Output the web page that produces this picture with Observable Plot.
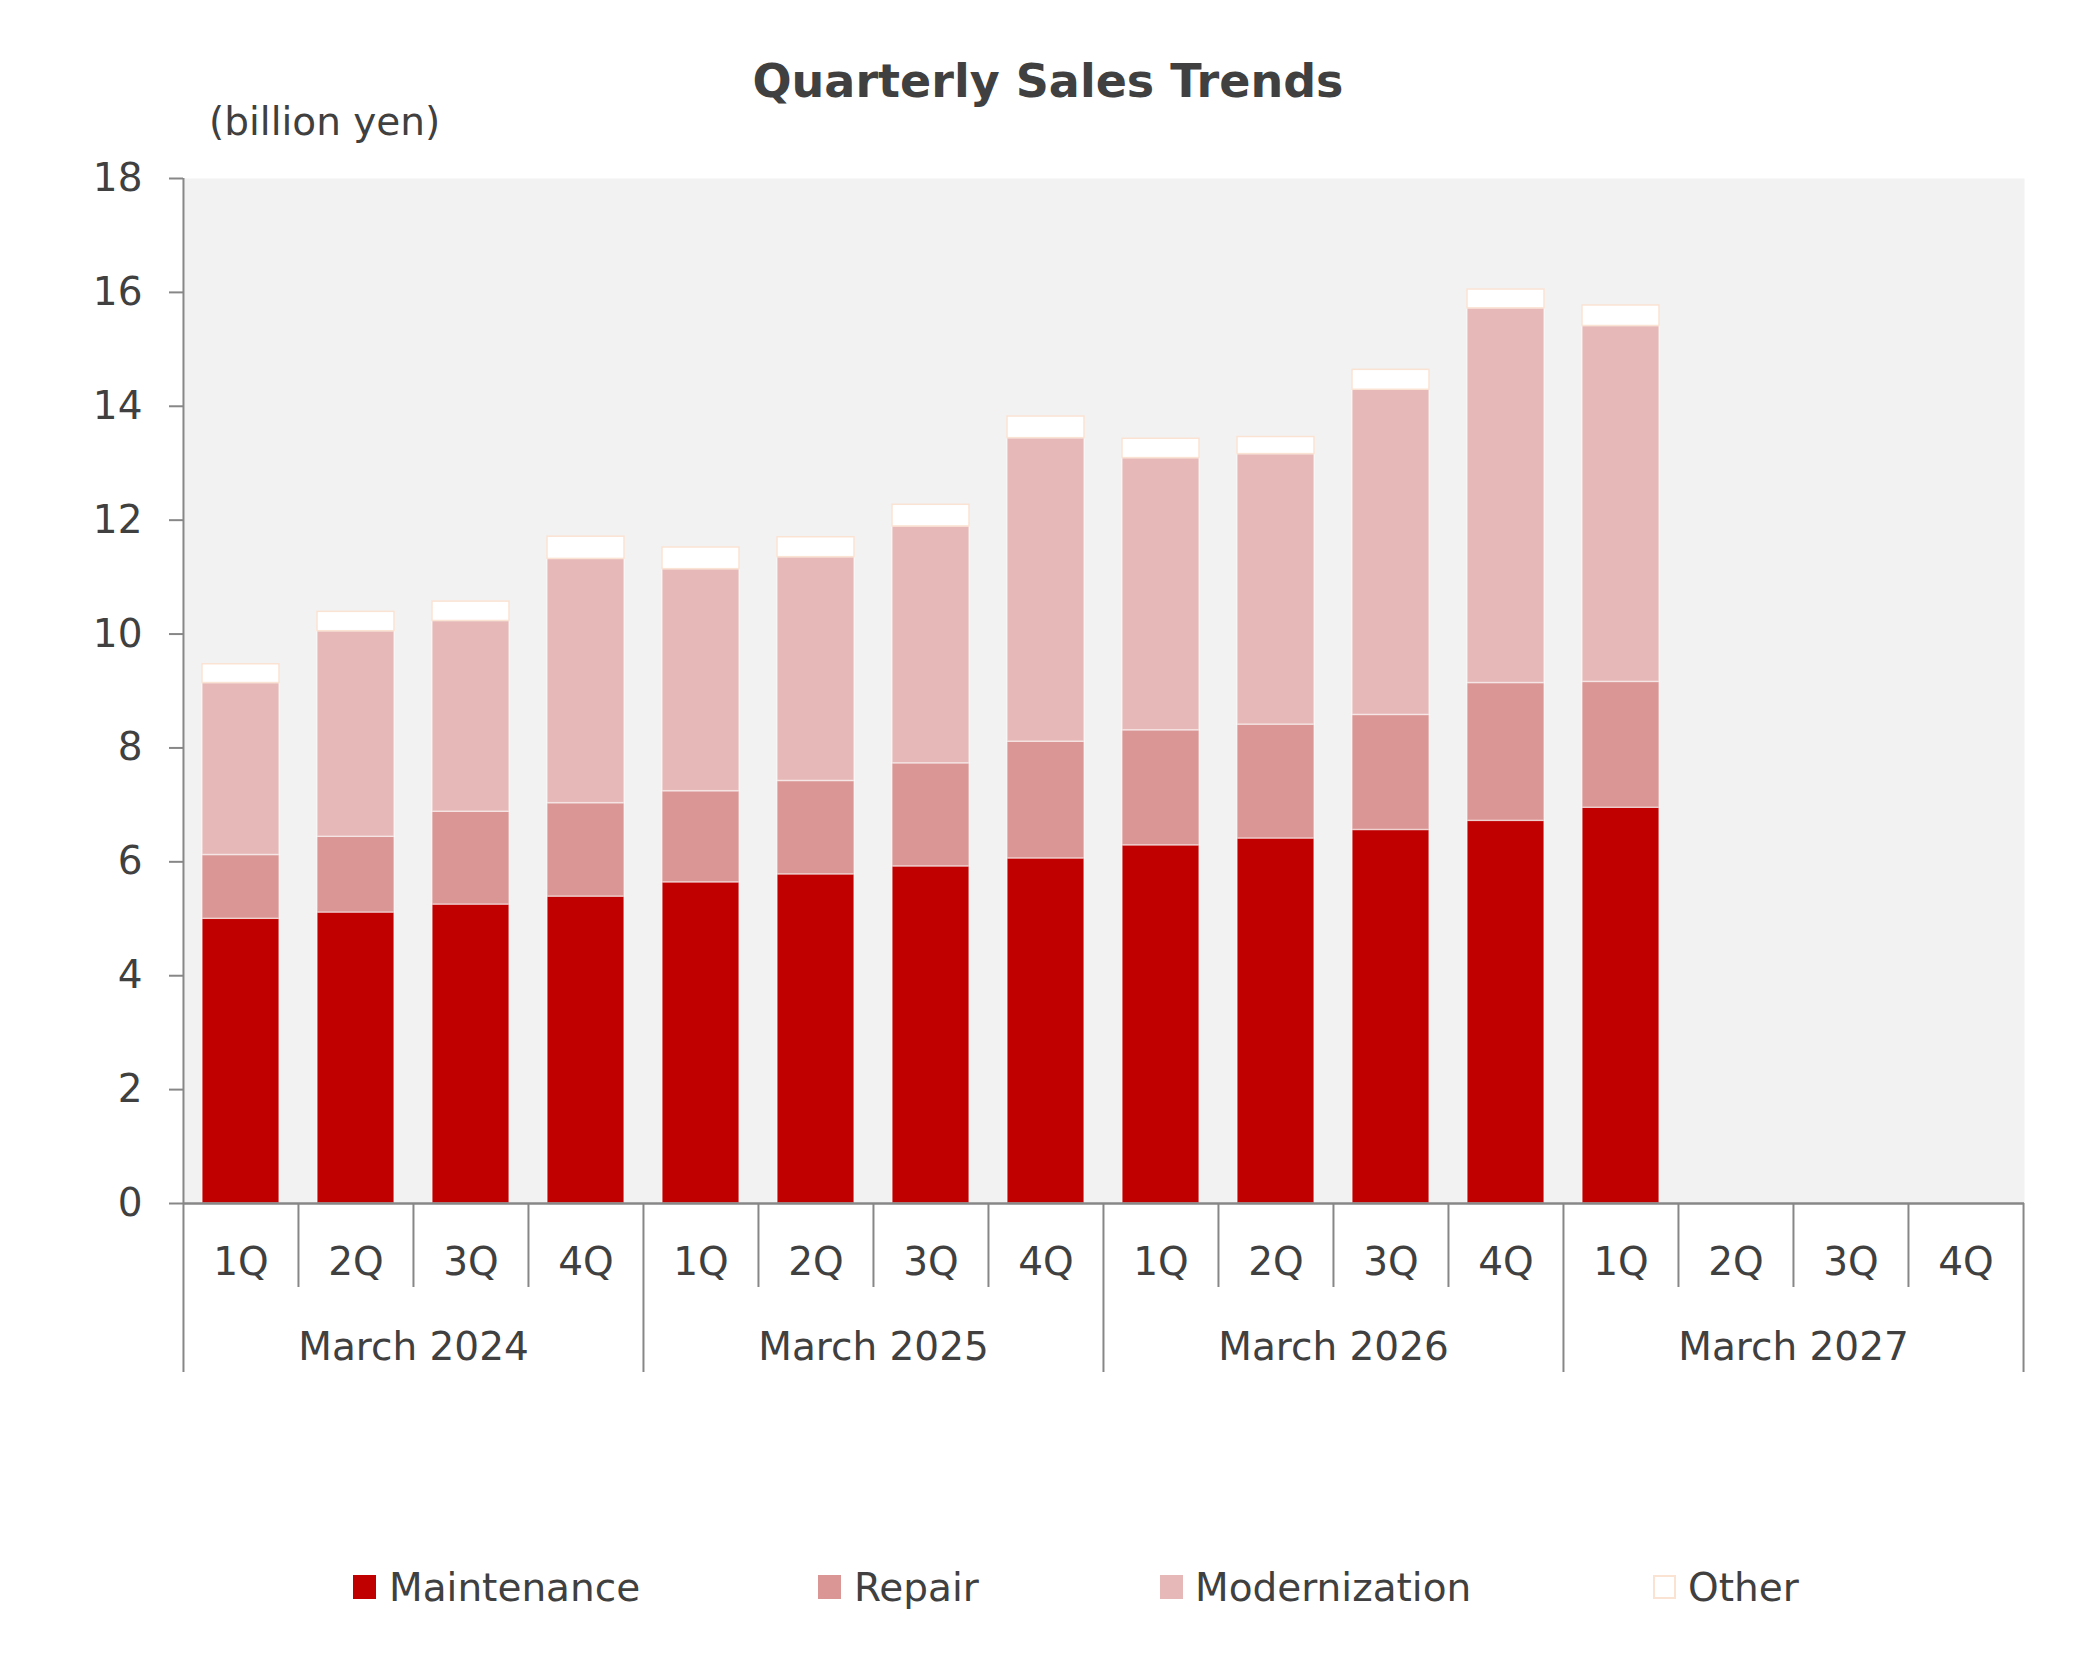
<!DOCTYPE html>
<html>
<head>
<meta charset="utf-8">
<script src="https://cdn.jsdelivr.net/npm/d3@7"></script>
<script src="https://cdn.jsdelivr.net/npm/@observablehq/plot@0.6"></script>
<style>
  html, body { margin: 0; padding: 0; background: #ffffff; }
  #page { position: relative; width: 2096px; height: 1654px; overflow: hidden; font-family: "DejaVu Sans", Verdana, sans-serif; color: #404040; }
  .abs { position: absolute; white-space: nowrap; line-height: 1; }
  #title { font-weight: bold; font-size: 46px; left: 0; width: 2096px; text-align: center; top: 58px; }
  #unit { font-size: 39px; left: 209px; top: 102px; }
  #chart { position: absolute; left: 0; top: 150px; }
  .sw { position: absolute; width: 23px; height: 24px; top: 1575px; box-sizing: border-box; }
  .lg { font-size: 39px; top: 1568px; }
</style>
</head>
<body>
<div id="page">
  <div id="title" class="abs">Quarterly Sales Trends</div>
  <div id="unit" class="abs">(billion yen)</div>
  <div id="chart"></div>
  <div id="legend"></div>
</div>
<script>
// ---- data ----
const years = ["March 2024", "March 2025", "March 2026", "March 2027"];
const quarters = ["1Q", "2Q", "3Q", "4Q"];
const series = ["Maintenance", "Repair", "Modernization", "Other"];
const maintenance   = [5.00, 5.11, 5.25, 5.39, 5.64, 5.78, 5.92, 6.06, 6.29, 6.41, 6.56, 6.72, 6.95];
const repair        = [1.12, 1.33, 1.63, 1.64, 1.60, 1.64, 1.81, 2.05, 2.02, 2.00, 2.02, 2.42, 2.21];
const modernization = [3.02, 3.61, 3.35, 4.29, 3.90, 3.93, 4.16, 5.33, 4.78, 4.75, 5.71, 6.58, 6.25];
const other         = [0.33, 0.34, 0.34, 0.39, 0.38, 0.35, 0.38, 0.38, 0.34, 0.30, 0.35, 0.33, 0.36];
const yTicks = [0, 2, 4, 6, 8, 10, 12, 14, 16, 18];

// ---- styles ----
const fills   = {Maintenance: "#c00000", Repair: "#d99694", Modernization: "#e6b9b8", Other: "#ffffff"};
const strokes = {Maintenance: "rgba(255,255,255,0.55)", Repair: "rgba(255,255,255,0.45)", Modernization: "rgba(255,255,255,0.5)", Other: "#fbe3d4"};
const axisGray = "#878787";
const textGray = "#404040";

// ---- build table ----
const keys = [];
years.forEach(y => quarters.forEach(q => keys.push(y + "|" + q)));
const valuesBySeries = {Maintenance: maintenance, Repair: repair, Modernization: modernization, Other: other};
const rows = [];
keys.forEach((k, i) => {
  series.forEach(s => {
    const v = valuesBySeries[s][i];
    if (v !== undefined) rows.push({key: k, series: s, value: v});
  });
});

// ---- layout ----
const W = 2096, H = 1300;
const mL = 183, mR = 72, mT = 28, mB = 247;
const plotW = W - mL - mR, plotH = H - mT - mB;
const step = plotW / keys.length;

const qOf = k => k.split("|")[1];
const quarterSeps = keys.filter(k => qOf(k) !== "1Q");
const yearSeps = keys.filter((k, i) => qOf(k) === "1Q" && i > 0);

const plot = Plot.plot({
  width: W,
  height: H,
  marginLeft: mL,
  marginRight: mR,
  marginTop: mT,
  marginBottom: mB,
  style: {fontFamily: "DejaVu Sans, Verdana, sans-serif", fontSize: "39px", color: textGray, background: "transparent", overflow: "visible"},
  x: {domain: keys, paddingInner: 0.33, paddingOuter: 0.165, axis: null},
  y: {domain: [0, 18], axis: null},
  color: {type: "identity"},
  marks: [
    Plot.frame({fill: "#f2f2f2", stroke: null}),
    Plot.barY(rows, {
      x: "key", y: "value", z: "series",
      fill: d => fills[d.series],
      stroke: d => strokes[d.series],
      strokeWidth: 1.5
    }),
    Plot.axisY({ticks: yTicks, tickSize: 14, tickPadding: 27, stroke: axisGray, strokeWidth: 2, fill: textGray, fontSize: 39, label: null, tickFormat: d => String(d)}),
    Plot.ruleY([0], {stroke: axisGray, strokeWidth: 2.5}),
    // left axis line, extended through the category rows
    Plot.ruleX([keys[0]], {dx: -step / 2, insetBottom: -169, stroke: axisGray, strokeWidth: 2}),
    // quarter separators
    Plot.ruleX(quarterSeps, {dx: -step / 2, insetTop: plotH, insetBottom: -84, stroke: axisGray, strokeWidth: 2}),
    // year separators
    Plot.ruleX(yearSeps, {dx: -step / 2, insetTop: plotH, insetBottom: -169, stroke: axisGray, strokeWidth: 2}),
    Plot.ruleX([keys[keys.length - 1]], {dx: step / 2, insetTop: plotH, insetBottom: -169, stroke: axisGray, strokeWidth: 2}),
    // quarter labels
    Plot.text(keys, {x: d => d, text: qOf, frameAnchor: "bottom", dy: 71, fill: textGray, fontSize: 39}),
    // year labels
    Plot.text(years, {x: y => y + "|2Q", text: y => y, dx: step / 2, frameAnchor: "bottom", dy: 156, fill: textGray, fontSize: 39})
  ]
});
document.getElementById("chart").appendChild(plot);

// ---- legend ----
const legendPos = [
  {sw: 353, tx: 389},
  {sw: 818, tx: 854},
  {sw: 1160, tx: 1195},
  {sw: 1653, tx: 1688}
];
const legend = document.getElementById("legend");
series.forEach((s, i) => {
  const sw = document.createElement("div");
  sw.className = "sw";
  sw.style.left = legendPos[i].sw + "px";
  sw.style.background = fills[s];
  if (s === "Other") sw.style.border = "2px solid #fbe3d4";
  legend.appendChild(sw);
  const t = document.createElement("div");
  t.className = "abs lg";
  t.style.left = legendPos[i].tx + "px";
  t.textContent = s;
  legend.appendChild(t);
});
</script>
</body>
</html>
